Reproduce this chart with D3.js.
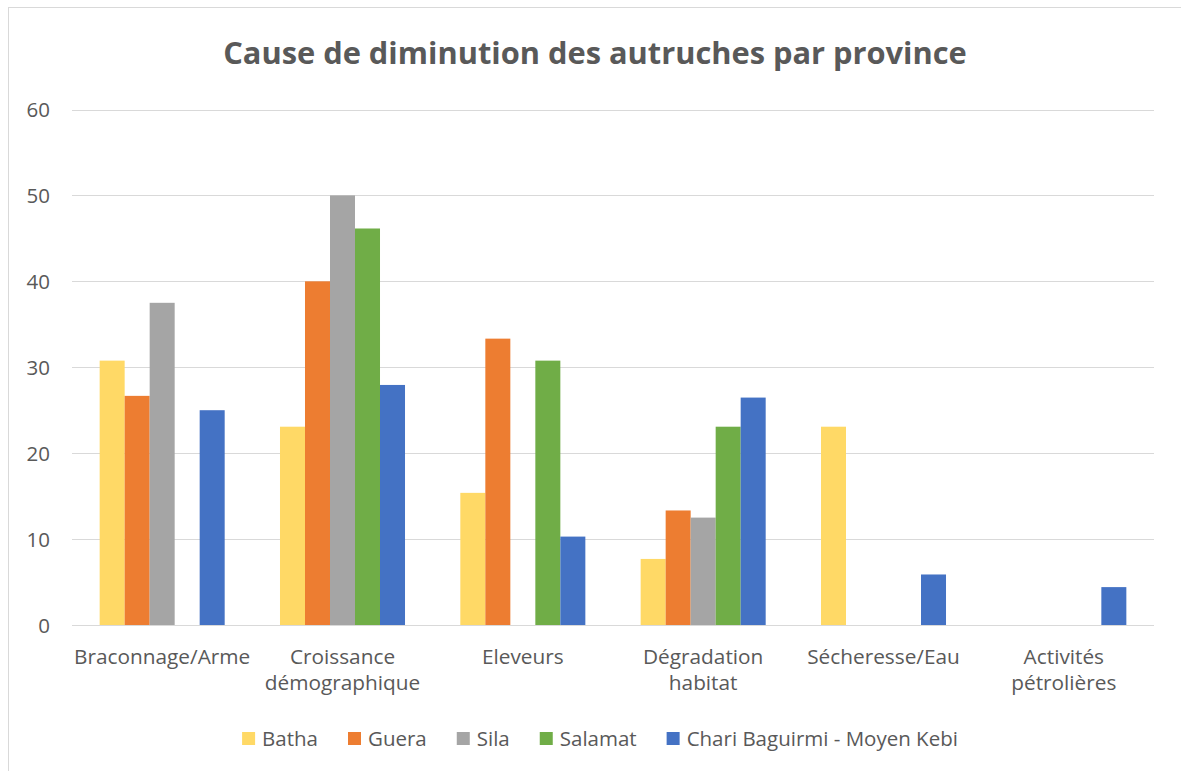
<!DOCTYPE html>
<html><head><meta charset="utf-8">
<script src="https://cdn.jsdelivr.net/npm/d3@7"></script>
<style>body{margin:0;background:#fff}svg{display:block}</style>
</head><body>
<script>
const categories = [["Braconnage/Arme"],["Croissance","démographique"],["Eleveurs"],["Dégradation","habitat"],["Sécheresse/Eau"],["Activités","pétrolières"]];
const seriesNames = ["Batha","Guera","Sila","Salamat","Chari Baguirmi - Moyen Kebi"];
const colors = ["#FFD966","#ED7D31","#A5A5A5","#70AD47","#4472C4"];
const batha   = [30.77, 23.08, 15.38, 7.69, 23.08, 0];
const guera   = [26.67, 40.0, 33.33, 13.33, 0, 0];
const sila    = [37.5, 50.0, 0, 12.5, 0, 0];
const salamat = [0, 46.15, 30.77, 23.08, 0, 0];
const chari   = [25.0, 27.94, 10.29, 26.47, 5.88, 4.41];
const yTicks = [0,10,20,30,40,50,60];
const title = "Cause de diminution des autruches par province";

const seriesValues = [batha, guera, sila, salamat, chari];
const W = 1181, H = 771;
const svg = d3.select("body").append("svg").attr("width", W).attr("height", H);
const font = "'Open Sans', 'Noto Sans', sans-serif";
const txt = "#595959";

// chart border
svg.append("rect").attr("x", 8.5).attr("y", 7.5).attr("width", W + 10).attr("height", H + 10)
  .attr("fill", "none").attr("stroke", "#d9d9d9").attr("stroke-width", 1);

const x0 = d3.scaleBand().domain(d3.range(categories.length)).range([72, 1154]).paddingInner(0).paddingOuter(0);
const x1 = d3.scaleBand().domain(d3.range(seriesNames.length)).range([0, x0.bandwidth()]).paddingInner(0).paddingOuter(1.106);
const y = d3.scaleLinear().domain([0, 60]).range([625, 109.5]);

// gridlines
svg.append("g").selectAll("line").data(yTicks).join("line")
  .attr("x1", 72).attr("x2", 1154)
  .attr("y1", d => Math.round(y(d)) + 0.5).attr("y2", d => Math.round(y(d)) + 0.5)
  .attr("stroke", "#d9d9d9").attr("stroke-width", 1);

// y axis labels
const yAxis = d3.axisLeft(y).tickValues(yTicks).tickSize(0).tickPadding(0);
const yg = svg.append("g").attr("transform", "translate(50,0)").call(yAxis);
yg.select(".domain").remove();
yg.selectAll("text").attr("font-family", font).attr("font-size", 20.5).attr("fill", txt).attr("dy", "0.35em");

// bars
seriesValues.forEach((vals, si) => {
  svg.append("g").selectAll("rect").data(vals).join("rect")
    .attr("x", (d, ci) => x0(ci) + x1(si))
    .attr("width", x1.bandwidth())
    .attr("y", d => y(d))
    .attr("height", d => y(0) - y(d))
    .attr("fill", colors[si]);
});

// x axis labels
const xg = svg.append("g");
categories.forEach((lines, ci) => {
  const cxp = x0(ci) + x0.bandwidth() / 2;
  const t = xg.append("text").attr("x", cxp).attr("y", 664)
    .attr("text-anchor", "middle").attr("font-family", font).attr("font-size", 20.8).attr("fill", txt);
  lines.forEach((l, li) => t.append("tspan").attr("x", cxp).attr("dy", li === 0 ? 0 : 26).text(l));
});

// title
svg.append("text").attr("x", 595).attr("y", 64).attr("text-anchor", "middle")
  .attr("font-family", font).attr("font-weight", "bold").attr("font-size", 30.8).attr("fill", txt).text(title);

// legend
const lg = svg.append("g");
let cx = 0;
seriesNames.forEach((n, i) => {
  const g = lg.append("g");
  g.append("rect").attr("x", cx).attr("y", -7).attr("width", 13).attr("height", 13).attr("fill", colors[i]);
  const t = g.append("text").attr("x", cx + 20).attr("y", 7)
    .attr("font-family", font).attr("font-size", 20.5).attr("fill", txt).text(n);
  const w = t.node().getComputedTextLength();
  cx += 20 + w + 30;
});
const total = cx - 30;
lg.attr("transform", `translate(${(600 - total / 2)},739)`);
</script>
</body></html>
